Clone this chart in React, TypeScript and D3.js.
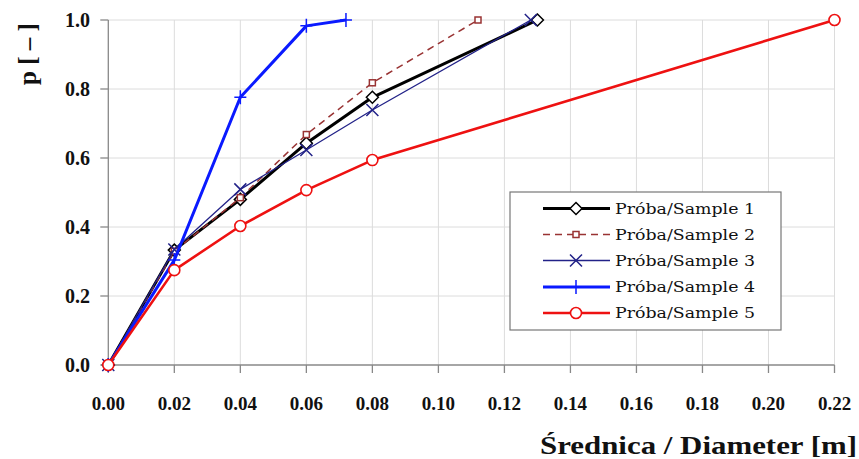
import React from "react";
import * as d3 from "d3";

const xTicks = [0, 0.02, 0.04, 0.06, 0.08, 0.1, 0.12, 0.14, 0.16, 0.18, 0.2, 0.22];
const yTicks = [0, 0.2, 0.4, 0.6, 0.8, 1.0];

const sample1X = [0, 0.02, 0.04, 0.06, 0.08, 0.13];
const sample1Y = [0, 0.333, 0.48, 0.643, 0.776, 1.0];
const sample2X = [0, 0.02, 0.04, 0.06, 0.08, 0.112];
const sample2Y = [0, 0.33, 0.485, 0.668, 0.818, 1.0];
const sample3X = [0, 0.02, 0.04, 0.06, 0.08, 0.128];
const sample3Y = [0, 0.335, 0.509, 0.623, 0.739, 1.0];
const sample4X = [0, 0.02, 0.04, 0.06, 0.072];
const sample4Y = [0, 0.304, 0.776, 0.983, 1.0];
const sample5X = [0, 0.02, 0.04, 0.06, 0.08, 0.22];
const sample5Y = [0, 0.275, 0.403, 0.507, 0.594, 1.0];

const seriesNames = [
  "Próba/Sample 1",
  "Próba/Sample 2",
  "Próba/Sample 3",
  "Próba/Sample 4",
  "Próba/Sample 5",
];

const FONT = "'Liberation Serif', serif";
const LEGEND_FONT = "'DejaVu Serif', serif";

type Marker = "diamond" | "square" | "x" | "plus" | "circle";
const series = [
  { xs: sample1X, ys: sample1Y, color: "#000000", width: 3, dash: "", marker: "diamond" as Marker },
  { xs: sample2X, ys: sample2Y, color: "#993333", width: 1.5, dash: "7,5", marker: "square" as Marker },
  { xs: sample3X, ys: sample3Y, color: "#222288", width: 1.3, dash: "", marker: "x" as Marker },
  { xs: sample4X, ys: sample4Y, color: "#0a1aff", width: 3, dash: "", marker: "plus" as Marker },
  { xs: sample5X, ys: sample5Y, color: "#ee1111", width: 2.6, dash: "", marker: "circle" as Marker },
];

function MarkerShape({ type, x, y, color }: { type: Marker; x: number; y: number; color: string }) {
  switch (type) {
    case "diamond":
      return (
        <path
          d={`M${x},${y - 6}L${x + 6},${y}L${x},${y + 6}L${x - 6},${y}Z`}
          fill="#fff"
          stroke={color}
          strokeWidth={1.5}
        />
      );
    case "square":
      return <rect x={x - 3} y={y - 3} width={6} height={6} fill="#fff" stroke={color} strokeWidth={1.5} />;
    case "x":
      return (
        <path
          d={`M${x - 6},${y - 6}L${x + 6},${y + 6}M${x - 6},${y + 6}L${x + 6},${y - 6}`}
          stroke={color}
          strokeWidth={1.5}
          fill="none"
        />
      );
    case "plus":
      return (
        <path
          d={`M${x - 6},${y}L${x + 6},${y}M${x},${y - 7}L${x},${y + 7}`}
          stroke={color}
          strokeWidth={1.5}
          fill="none"
        />
      );
    case "circle":
      return <circle cx={x} cy={y} r={5.5} fill="#fff" stroke={color} strokeWidth={1.6} />;
  }
}

export default function App() {
  const W = 859;
  const H = 459;
  const x = d3.scaleLinear().domain([0, 0.22]).range([108.3, 834.5]);
  const y = d3.scaleLinear().domain([0, 1]).range([365, 20]);
  const line = d3
    .line<[number, number]>()
    .x((d) => x(d[0]))
    .y((d) => y(d[1]));

  const legendX = 510;
  const legendY = 192;
  const legendRows = [208.5, 234.5, 260.5, 287, 313];
  const ts = { fontFamily: FONT };

  return (
    <svg
      width={W}
      height={H}
      style={{ position: "absolute", left: 0, top: 0, background: "#fff", fontFamily: FONT }}
    >
      {/* grid */}
      {xTicks.slice(1).map((t) => (
        <line key={"gx" + t} x1={x(t)} x2={x(t)} y1={y(1)} y2={y(0)} stroke="#dcdcdc" strokeWidth={1} />
      ))}
      {yTicks.slice(1).map((t) => (
        <line key={"gy" + t} x1={x(0)} x2={x(0.22)} y1={y(t)} y2={y(t)} stroke="#dcdcdc" strokeWidth={1} />
      ))}
      {/* axes */}
      <line x1={x(0)} x2={x(0)} y1={y(1)} y2={y(0)} stroke="#888" strokeWidth={1.3} />
      <line x1={x(0)} x2={x(0.22)} y1={y(0)} y2={y(0)} stroke="#888" strokeWidth={1.3} />
      {yTicks.map((t) => (
        <g key={"yt" + t}>
          <line x1={x(0) - 8} x2={x(0)} y1={y(t)} y2={y(t)} stroke="#888" strokeWidth={1.3} />
          <text
            x={90}
            y={y(t)}
            dy="0.35em"
            textAnchor="end"
            fontWeight="bold"
            fontSize={20}
            fill="#111"
            style={ts}
          >
            {d3.format(".1f")(t)}
          </text>
        </g>
      ))}
      {xTicks.map((t) => (
        <g key={"xt" + t}>
          <line x1={x(t)} x2={x(t)} y1={y(0)} y2={y(0) + 8} stroke="#888" strokeWidth={1.3} />
          <text
            x={x(t)}
            y={410}
            textAnchor="middle"
            fontWeight="bold"
            fontSize={19}
            fill="#111"
            style={ts}
          >
            {d3.format(".2f")(t)}
          </text>
        </g>
      ))}
      {/* axis titles */}
      <text
        transform={`translate(36,54) rotate(-90)`}
        textAnchor="middle"
        fontWeight="bold"
        fontSize={25}
        fill="#111"
        style={ts}
      >
        p [ – ]
      </text>
      <text
        x={540}
        y={454}
        fontWeight="bold"
        fontSize={26}
        fill="#111"
        textLength={317}
        lengthAdjust="spacingAndGlyphs"
        style={ts}
      >
        Średnica / Diameter [m]
      </text>
      {/* series */}
      {series.map((s, i) => {
        const pts = s.xs.map((v, j) => [v, s.ys[j]] as [number, number]);
        return (
          <g key={"s" + i}>
            <path
              d={line(pts) || ""}
              fill="none"
              stroke={s.color}
              strokeWidth={s.width}
              strokeDasharray={s.dash}
              strokeLinejoin="round"
            />
            {pts.map((p, j) => (
              <MarkerShape key={j} type={s.marker} x={x(p[0])} y={y(p[1])} color={s.color} />
            ))}
          </g>
        );
      })}
      {/* legend */}
      <rect x={legendX} y={legendY} width={271} height={138} fill="#fff" stroke="#777" strokeWidth={1.2} />
      {series.map((s, i) => (
        <g key={"l" + i}>
          <line
            x1={543}
            x2={610}
            y1={legendRows[i]}
            y2={legendRows[i]}
            stroke={s.color}
            strokeWidth={s.width}
            strokeDasharray={s.dash}
          />
          <MarkerShape type={s.marker} x={576} y={legendRows[i]} color={s.color} />
          <text
            x={615}
            y={legendRows[i] + 5}
            fontSize={15.5}
            fill="#111"
            textLength={140}
            lengthAdjust="spacingAndGlyphs"
            style={{ fontFamily: LEGEND_FONT }}
          >
            {seriesNames[i]}
          </text>
        </g>
      ))}
    </svg>
  );
}
